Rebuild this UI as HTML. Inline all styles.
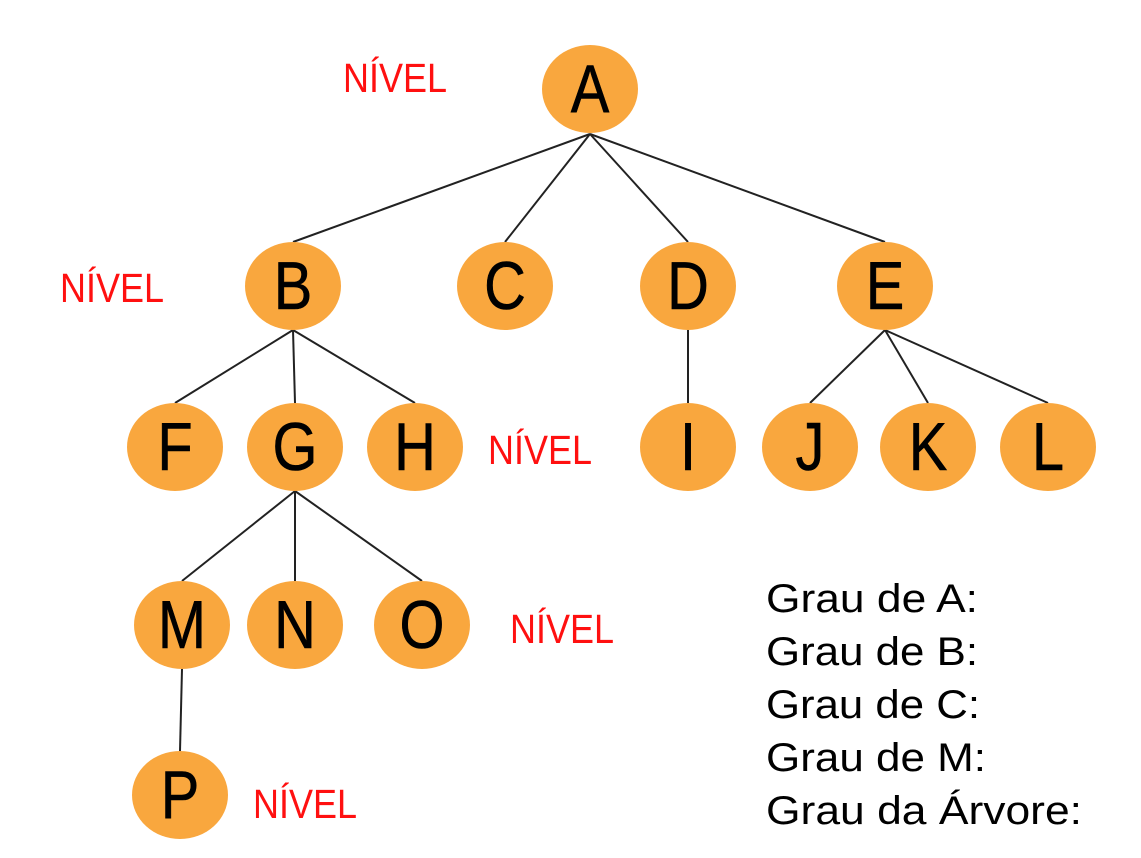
<!DOCTYPE html>
<html><head><meta charset="utf-8"><style>
html,body{margin:0;padding:0;background:#fff;}
svg{display:block;}
.n{fill:#F9A73E;}
.l{stroke:#222;stroke-width:2;fill:none;}
.t{font-family:"Liberation Sans",sans-serif;font-size:68px;fill:#000;text-anchor:middle;stroke:#000;stroke-width:0.6;}
.r{font-family:"Liberation Sans",sans-serif;font-size:41px;fill:#ff1010;}
.g{font-family:"Liberation Sans",sans-serif;font-size:40px;fill:#000;}
</style></head><body>
<svg width="1141" height="858" viewBox="0 0 1141 858">
<g class="l">
<line x1="590" y1="134" x2="293" y2="242"/>
<line x1="590" y1="134" x2="505" y2="242"/>
<line x1="590" y1="134" x2="688" y2="242"/>
<line x1="590" y1="134" x2="885" y2="242"/>
<line x1="293" y1="330" x2="175" y2="403"/>
<line x1="293" y1="330" x2="295" y2="403"/>
<line x1="293" y1="330" x2="415" y2="403"/>
<line x1="688" y1="330" x2="688" y2="403"/>
<line x1="885" y1="330" x2="810" y2="403"/>
<line x1="885" y1="330" x2="928" y2="403"/>
<line x1="885" y1="330" x2="1048" y2="403"/>
<line x1="295" y1="491" x2="182" y2="581"/>
<line x1="295" y1="491" x2="295" y2="581"/>
<line x1="295" y1="491" x2="422" y2="581"/>
<line x1="182" y1="669" x2="180" y2="751"/>
</g>
<g class="n">
<ellipse cx="590" cy="89" rx="48" ry="44"/>
<ellipse cx="293" cy="286" rx="48" ry="44"/>
<ellipse cx="505" cy="286" rx="48" ry="44"/>
<ellipse cx="688" cy="286" rx="48" ry="44"/>
<ellipse cx="885" cy="286" rx="48" ry="44"/>
<ellipse cx="175" cy="447" rx="48" ry="44"/>
<ellipse cx="295" cy="447" rx="48" ry="44"/>
<ellipse cx="415" cy="447" rx="48" ry="44"/>
<ellipse cx="688" cy="447" rx="48" ry="44"/>
<ellipse cx="810" cy="447" rx="48" ry="44"/>
<ellipse cx="928" cy="447" rx="48" ry="44"/>
<ellipse cx="1048" cy="447" rx="48" ry="44"/>
<ellipse cx="182" cy="625" rx="48" ry="44"/>
<ellipse cx="295" cy="625" rx="48" ry="44"/>
<ellipse cx="422" cy="625" rx="48" ry="44"/>
<ellipse cx="180" cy="795" rx="48" ry="44"/>
</g>
<g class="t">
<text transform="translate(590,112) scale(0.85,1)">A</text>
<text transform="translate(293,309) scale(0.85,1)">B</text>
<text transform="translate(505,309) scale(0.85,1)">C</text>
<text transform="translate(688,309) scale(0.85,1)">D</text>
<text transform="translate(885,309) scale(0.85,1)">E</text>
<text transform="translate(175,470) scale(0.85,1)">F</text>
<text transform="translate(295,470) scale(0.85,1)">G</text>
<text transform="translate(415,470) scale(0.85,1)">H</text>
<text transform="translate(688,470) scale(0.85,1)">I</text>
<text transform="translate(810,470) scale(0.85,1)">J</text>
<text transform="translate(928,470) scale(0.85,1)">K</text>
<text transform="translate(1048,470) scale(0.85,1)">L</text>
<text transform="translate(182,648) scale(0.85,1)">M</text>
<text transform="translate(295,648) scale(0.85,1)">N</text>
<text transform="translate(422,648) scale(0.85,1)">O</text>
<text transform="translate(180,818) scale(0.85,1)">P</text>
</g>
<g class="r">
<text x="343" y="92" textLength="104" lengthAdjust="spacingAndGlyphs">NÍVEL</text>
<text x="60" y="302" textLength="104" lengthAdjust="spacingAndGlyphs">NÍVEL</text>
<text x="488" y="464" textLength="104" lengthAdjust="spacingAndGlyphs">NÍVEL</text>
<text x="510" y="643" textLength="104" lengthAdjust="spacingAndGlyphs">NÍVEL</text>
<text x="253" y="818" textLength="104" lengthAdjust="spacingAndGlyphs">NÍVEL</text>
</g>
<g class="g">
<text x="766" y="612" textLength="212" lengthAdjust="spacingAndGlyphs">Grau de A:</text>
<text x="766" y="665" textLength="212" lengthAdjust="spacingAndGlyphs">Grau de B:</text>
<text x="766" y="718" textLength="214" lengthAdjust="spacingAndGlyphs">Grau de C:</text>
<text x="766" y="771" textLength="220" lengthAdjust="spacingAndGlyphs">Grau de M:</text>
<text x="766" y="824" textLength="316" lengthAdjust="spacingAndGlyphs">Grau da Árvore:</text>
</g>
</svg>
</body></html>
